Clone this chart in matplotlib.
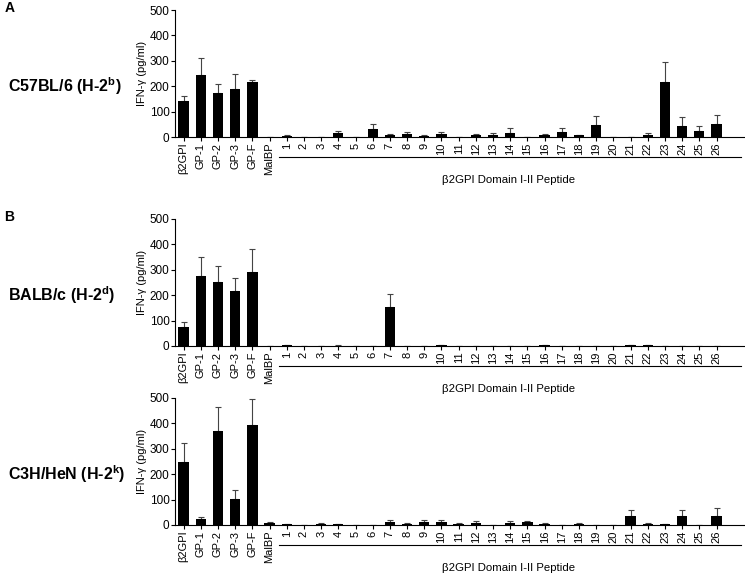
import matplotlib
matplotlib.use('Agg')
import matplotlib.pyplot as plt
import matplotlib.transforms as mtransforms
import numpy as np

plt.rcParams['font.family'] = ['Liberation Sans', 'DejaVu Sans']
plt.rcParams['mathtext.fontset'] = 'custom'
plt.rcParams['mathtext.rm'] = 'Liberation Sans'
plt.rcParams['mathtext.bf'] = 'Liberation Sans:bold'

controls = ['β2GPI', 'GP-1', 'GP-2', 'GP-3', 'GP-F', 'MalBP']
peptides = [str(i) for i in range(1, 27)]
labels = controls + peptides

# C57BL/6 (H-2b)
b6_mean = [140, 245, 175, 188, 215, 1,
           5, 1, 1, 14, 1, 30, 7, 10, 4, 10, 0, 6, 9, 17, 0, 8, 20, 6, 49, 0, 0, 9, 216, 42, 24, 50]
b6_err = [23, 68, 35, 62, 10, 1,
          4, 1, 1, 10, 1, 23, 5, 11, 2, 11, 0, 4, 8, 17, 0, 4, 17, 2, 32, 0, 0, 8, 80, 36, 21, 36]

# BALB/c (H-2d)
balb_mean = [74, 276, 251, 216, 293, 0,
             2, 0, 0, 1, 0, 0, 152, 0, 0, 3, 1, 1, 1, 1, 0, 3, 1, 0, 0, 0, 2, 3, 1, 1, 0, 0]
balb_err = [21, 76, 63, 53, 87, 0,
            2, 0, 0, 2, 0, 0, 51, 0, 0, 2, 0, 0, 0, 0, 0, 2, 0, 0, 0, 0, 2, 2, 0, 0, 0, 0]

# C3H/HeN (H-2k)
c3h_mean = [247, 25, 371, 101, 394, 6,
            2, 1, 4, 2, 1, 1, 12, 4, 12, 12, 4, 8, 1, 8, 10, 4, 1, 3, 0, 0, 36, 4, 2, 36, 0, 37]
c3h_err = [77, 7, 92, 36, 103, 7,
           1, 0, 2, 0, 0, 0, 8, 2, 8, 8, 2, 6, 0, 6, 6, 2, 0, 3, 0, 0, 24, 3, 3, 24, 0, 29]

panels = [
    (r'C57BL/6 (H-2$^\mathbf{b}$)', b6_mean, b6_err, 0.7617, 'A'),
    (r'BALB/c (H-2$^\mathbf{d}$)', balb_mean, balb_err, 0.3983, 'B'),
    (r'C3H/HeN (H-2$^\mathbf{k}$)', c3h_mean, c3h_err, 0.0870, None),
]

fig = plt.figure(figsize=(7.45, 5.75), dpi=100)
x = np.arange(len(labels))

for name, mean, err, bottom, letter in panels:
    ax = fig.add_axes([0.2349, bottom, 0.7638, 0.2209])
    ax.bar(x, mean, width=0.6, color='black', zorder=2)
    ax.errorbar(x, mean, yerr=[np.zeros(len(err)), err], fmt='none',
                ecolor='#444444', elinewidth=0.8, capsize=2, capthick=0.8, zorder=1)
    ax.set_xlim(-0.5, 32.6)
    ax.set_ylim(0, 500)
    ax.set_yticks([0, 100, 200, 300, 400, 500])
    ax.tick_params(axis='y', labelsize=8.5, length=3, width=0.8, pad=1)
    ax.set_xticks(x)
    ax.set_xticklabels(labels, rotation=90, fontsize=8)
    ax.tick_params(axis='x', length=3, width=0.8, pad=1)
    for s in ['top', 'right']:
        ax.spines[s].set_visible(False)
    for s in ['left', 'bottom']:
        ax.spines[s].set_linewidth(0.8)
    ax.set_ylabel('IFN-γ (pg/ml)', fontsize=8, labelpad=2)

    trans = mtransforms.blended_transform_factory(ax.transData, ax.transAxes)
    ax.plot([5.55, 32.4], [-0.155, -0.155], color='black', lw=0.8,
            transform=trans, clip_on=False)
    ax.text(18.9, -0.34, 'β2GPI Domain I-II Peptide', transform=trans,
            ha='center', va='center', fontsize=8.2)

    fig.text(0.011, bottom + 0.2209 * 0.4, name, fontsize=11.5, fontweight='bold',
             ha='left', va='center')
    if letter:
        fig.text(0.006, bottom + 0.2209 + 0.003, letter, fontsize=10, fontweight='bold',
                 ha='left', va='center')

fig.savefig('out.png', dpi=100)
